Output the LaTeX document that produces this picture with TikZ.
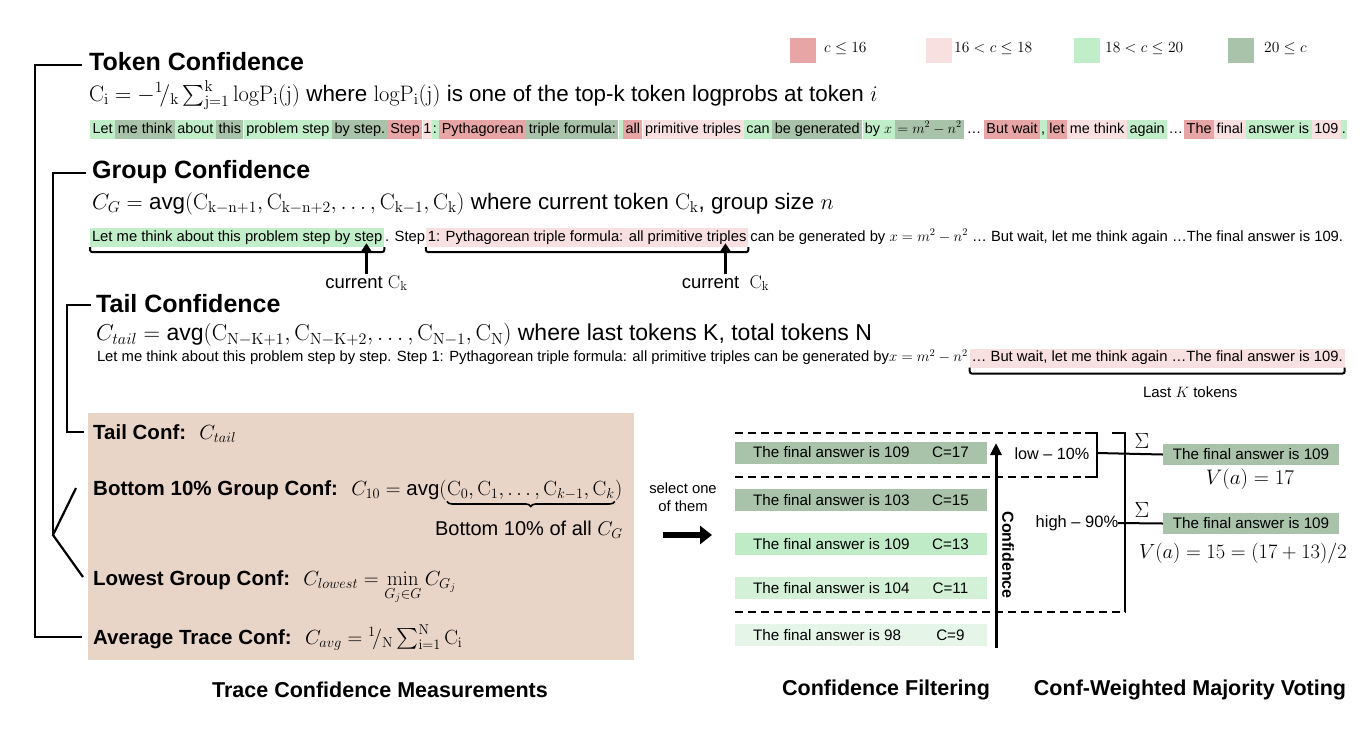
\RequirePackage{fix-cm}
\documentclass[tikz,border=0pt]{standalone}
\usepackage{amsmath}
\usepackage[no-math]{fontspec}
\setmainfont{Liberation Sans}
\usetikzlibrary{arrows.meta,calc,decorations.pathreplacing}
\definecolor{cred}{HTML}{E8A5A6}
\definecolor{cpink}{HTML}{F9E0E0}
\definecolor{clg}{HTML}{C0EEC9}
\definecolor{cdg}{HTML}{A9C2AA}
\definecolor{cbox}{HTML}{E9D4C8}
\definecolor{cgc}{HTML}{BFEBC7}
\definecolor{cgd}{HTML}{D2F1D7}
\definecolor{cge}{HTML}{E5F6E8}
\newcommand\fs[2]{\fontsize{#1}{#2}\selectfont}
\begin{document}
\begin{tikzpicture}[x=1pt,y=-1pt,
  head/.style={anchor=west, font=\fs{25}{30}\bfseries, inner sep=0pt},
  form/.style={anchor=west, font=\fs{22.4}{26}, inner sep=0pt},
  tok/.style={anchor=west, inner xsep=2.4pt, inner ysep=0pt, minimum height=19pt, font=\fs{14.4}{17}, text height=10.5pt, text depth=3.5pt},
  tokg/.style={tok, font=\fs{14.8}{17}},
  lbl/.style={font=\fs{18.5}{22}, inner sep=1pt},
  conn/.style={line width=2.2pt},
  ubr/.style={line width=2pt, rounded corners=2.5pt},
  arr/.style={line width=3pt, -{Triangle[length=9pt,width=11pt]}},
  item/.style={anchor=base west, font=\fs{20.5}{24}, inner sep=0pt},
  captxt/.style={font=\fs{21.5}{25}\bfseries},
  ans/.style={minimum width=252pt, minimum height=22pt, inner sep=0pt, anchor=west},
  anstxt/.style={font=\fs{15.2}{18}, inner sep=0pt},
  dline/.style={line width=1.6pt, dash pattern=on 8pt off 5pt},
  legsq/.style={minimum width=26pt, minimum height=25pt, inner sep=0pt},
  legtxt/.style={anchor=west, font=\fs{15.5}{19}, inner sep=0pt}]
\useasboundingbox (0,0) rectangle (1370,729);

% legend
\node[legsq,fill=cred] (l1) at (803,50) {};
\node[legtxt] (l1t) at (824,49) {$c\le 16$};
\node[legsq,fill=cpink] (l2) at (939,50) {};
\node[legtxt] (l2t) at (954,49) {$16<c\le 18$};
\node[legsq,fill=clg] (l3) at (1087,50) {};
\node[legtxt] (l3t) at (1105,49) {$18<c\le 20$};
\node[legsq,fill=cdg] (l4) at (1241,50) {};
\node[legtxt] (l4t) at (1264,49) {$20\le c$};

% token confidence
\node[head] (th) at (89,62) {Token Confidence};
\node[form] (tf) at (89,95) {$\mathrm{C_i} = -{}^{1}\!/_{\mathrm{k}}\sum_{\mathrm{j=1}}^{\mathrm{k}}\mathrm{logP_i(j)}$ where $\mathrm{logP_i(j)}$ is one of the top-k token logprobs at token $i$};
\node[tok,fill=clg] (t1) at (90,129.5) {Let};
\node[tok,fill=cdg] (t2) at (t1.east) {me think};
\node[tok,fill=clg] (t3) at (t2.east) {about};
\node[tok,fill=cdg] (t4) at (t3.east) {this};
\node[tok,fill=clg] (t5) at (t4.east) {problem step};
\node[tok,fill=cdg] (t6) at (t5.east) {by step.};
\node[tok,fill=cred] (t7) at (t6.east) {Step};
\node[tok,fill=cpink,inner xsep=0.6pt] (t8) at (t7.east) {1};
\node[tok,fill=clg,inner xsep=0.6pt] (t9) at (t8.east) {:\kern1.5pt};
\node[tok,fill=cred] (t10) at (t9.east) {Pythagorean};
\node[tok,fill=cdg] (t11) at (t10.east) {triple formula:};
\node[tok,fill=clg,inner xsep=0pt,minimum width=4pt] (t12) at (t11.east) {};
\node[tok,fill=cred] (t13) at (t12.east) {all};
\node[tok,fill=cpink] (t14) at (t13.east) {primitive triples};
\node[tok,fill=clg] (t15) at (t14.east) {can};
\node[tok,fill=cdg] (t16) at (t15.east) {be generated};
\node[tok,fill=clg] (t17) at (t16.east) {by $x$};
\node[tok,fill=cdg] (t18) at (t17.east) {$=m^2-n^2$};
\node[tok] (t19) at (t18.east) {…};
\node[tok,fill=cred] (t20) at (t19.east) {But wait};
\node[tok,fill=clg,inner xsep=0.6pt] (t21) at (t20.east) {,\kern1pt};
\node[tok,fill=cred] (t22) at (t21.east) {let};
\node[tok,fill=cpink] (t23) at (t22.east) {me think};
\node[tok,fill=clg] (t24) at (t23.east) {again};
\node[tok,inner xsep=1pt] (t25) at (t24.east) {…};
\node[tok,fill=cred] (t26) at (t25.east) {The};
\node[tok,fill=cpink] (t27) at (t26.east) {final};
\node[tok,fill=clg] (t28) at (t27.east) {answer is};
\node[tok,fill=cpink] (t29) at (t28.east) {109};
\node[tok,fill=clg,inner xsep=0.6pt] (t30) at (t29.east) {.\kern1pt};

% group confidence
\node[head] (gh) at (92,172) {Group Confidence};
\node[form] (gf) at (92,204) {$C_G = \text{avg}(\mathrm{C_{k-n+1}}, \mathrm{C_{k-n+2}}, \dots, \mathrm{C_{k-1}}, \mathrm{C_k})$ where current token $\mathrm{C_k}$, group size $n$};
\node[tokg,inner xsep=1.8pt,fill=clg] (g1) at (90,237.5) {Let me think about this problem step by step};
\node[tokg,inner xsep=0.5pt] (g2) at (g1.east) {. Step};
\node[tokg,inner xsep=1.8pt,fill=cpink] (g3) at (g2.east) {1: Pythagorean triple formula: all primitive triples};
\node[tokg,inner xsep=1.8pt] (g4) at (g3.east) {can be generated by $x=m^2-n^2$ … But wait, let me think again …The final answer is 109.};
\draw[ubr] (g1.south west) -- ++(0,5) -| (g1.south east);
\draw[ubr] (g3.south west) -- ++(0,5) -| (g3.south east);
\node[lbl] (cur1) at ($(g1.south east)+(-18,36)$) {current $\mathrm{C_k}$};
\draw[arr] (cur1.north) -- ($(g1.south east)+(-18,-4)$);
\node[lbl] (cur2) at ($(g3.south east)+(-23,36)$) {current~ $\mathrm{C_k}$};
\draw[arr] (cur2.north) -- ($(g3.south east)+(-23,-4)$);

% tail confidence
\node[head] (rh) at (96,304) {Tail Confidence};
\node[form,font=\fs{23}{27}] (rf) at (96,335) {$C_{tail} = \text{avg}(\mathrm{C_{N-K+1}}, \mathrm{C_{N-K+2}}, \dots, \mathrm{C_{N-1}}, \mathrm{C_N})$ where last tokens K, total tokens N};
\node[tokg,inner xsep=1.8pt] (r1) at (95,358) {Let me think about this problem step by step. Step 1: Pythagorean triple formula: all primitive triples can be generated by$x=m^2-n^2$};
\node[tokg,inner xsep=1.8pt,fill=cpink] (r2) at (r1.east) {… But wait, let me think again …The final answer is 109.};
\draw[ubr] (r2.south west) -- ++(0,6) -| (r2.south east);
\node[lbl,font=\fs{15}{18}] (lastk) at ($(r2.south)+(33,24)$) {Last $K$ tokens};

% measurement box
\fill[cbox] (88,413) rectangle (634,660);
\node[item] (m1) at (93,439) {\textbf{Tail Conf:}~ $C_{tail}$};
\node[item] (m2a) at (93,495) {\textbf{Bottom 10\% Group Conf:}~ $C_{10} = \text{avg}($};
\node[item] (m2b) at (m2a.base east) {$\mathrm{C_0}, \mathrm{C_1}, \dots, \mathrm{C}_{k-1}, \mathrm{C}_k$};
\node[item] (m2c) at (m2b.base east) {$)$};
\draw[line width=1.6pt, decorate, decoration={brace, mirror, amplitude=5pt}] ($(m2b.south west)+(0,2)$) -- ($(m2b.south east)+(0,2)$);
\node[lbl,font=\fs{20}{24}] (b10) at ($(m2b.south)+(-2,30)$) {Bottom 10\% of all $C_G$};
\node[item] (m3) at (93,585) {\textbf{Lowest Group Conf:}~ $C_{lowest} = \min\limits_{G_j\in G} C_{G_j}$};
\node[item] (m4) at (93,644) {\textbf{Average Trace Conf:}~ $C_{avg} = {}^{1}\!/_{\mathrm{N}}\sum_{\mathrm{i=1}}^{\mathrm{N}}\mathrm{C_i}$};

% left brackets
\draw[conn] (th.west) ++(-7,3) -- (35,65) -- (35,637) -- (82,637);
\draw[conn] (gh.west) ++(-6,1) -- (53,173) -- (53,535);
\draw[conn] (76,488) -- (53,535) -- (83,577);
\draw[conn] (rh.west) ++(-5,1) -- (67,305) -- (67,432) -- (84,432);

% select arrow
\node[align=center, font=\fs{14.8}{18}] (sel) at (683,497) {select one\\of them};
\draw[line width=6pt, -{Triangle[length=12pt,width=18pt]}] (663,535) -- (712,535);

% filtering
\draw[dline] (735,433) -- (1098,433);
\draw[dline] (735,477) -- (1098,477);
\draw[dline] (735,612) -- (1126,612);
\node[ans,fill=cdg] (a1) at (735,452.5) {};
\node[ans,fill=cdg] (a2) at (735,500) {};
\node[ans,fill=cgc] (a3) at (735,544) {};
\node[ans,fill=cgd] (a4) at (735,588) {};
\node[ans,fill=cge] (a5) at (735,635) {};
\node[anstxt,anchor=west] at ($(a1.west)+(18,0)$) {The final answer is 109};
\node[anstxt] at ($(a1.east)+(-37,0)$) {C=17};
\node[anstxt,anchor=west] at ($(a2.west)+(18,0)$) {The final answer is 103};
\node[anstxt] at ($(a2.east)+(-37,0)$) {C=15};
\node[anstxt,anchor=west] at ($(a3.west)+(18,0)$) {The final answer is 109};
\node[anstxt] at ($(a3.east)+(-37,0)$) {C=13};
\node[anstxt,anchor=west] at ($(a4.west)+(18,0)$) {The final answer is 104};
\node[anstxt] at ($(a4.east)+(-37,0)$) {C=11};
\node[anstxt,anchor=west] at ($(a5.west)+(18,0)$) {The final answer is 98};
\node[anstxt] at ($(a5.east)+(-37,0)$) {C=9};
\draw[line width=3pt, -{Triangle[length=12pt,width=11pt]}] (996,648) -- (996,443);
\node[rotate=-90, font=\fs{16}{19}\bfseries, inner sep=0pt] (conf) at (1008,555) {Confidence};
\node[font=\fs{16.2}{20}, inner sep=0pt] (low) at (1052,454) {low -- 10\%};
\node[font=\fs{16.5}{20}, inner sep=0pt] (high) at (1077,523) {high -- 90\%};

% voting
\node[anstxt, fill=cdg, minimum width=176pt, minimum height=21pt] (v1) at (1251,454.5) {The final answer is 109};
\node[anstxt, fill=cdg, minimum width=176pt, minimum height=21pt] (v2) at (1251,523.5) {The final answer is 109};
\draw[conn,line width=2pt] (1085,433) -- (1097,433) -- (1097,477) -- (1085,477);
\draw[conn,line width=2pt] (1097,453) -- (v1.west);
\draw[conn,line width=2pt] (1112,433) -- (1125,433) -- (1125,612);
\draw[conn,line width=2pt] (1118,523) -- (v2.west);
\node[font=\fs{22}{26}, inner sep=0pt] (s1) at (1142,441) {$\Sigma$};
\node[font=\fs{22}{26}, inner sep=0pt] (s2) at (1142,510) {$\Sigma$};
\node[font=\fs{21}{24}, inner sep=0pt] (va1) at (1250,479) {$V(a)=17$};
\node[font=\fs{20.5}{24}, inner sep=0pt] (va2) at (1243,553) {$V(a)=15=(17+13)/2$};

% captions
\node[captxt] (c1) at (380,690) {Trace Confidence Measurements};
\node[captxt] (c2) at (886,690) {Confidence Filtering};
\node[captxt] (c3) at (1190,690) {Conf-Weighted Majority Voting};
\end{tikzpicture}
\end{document}
